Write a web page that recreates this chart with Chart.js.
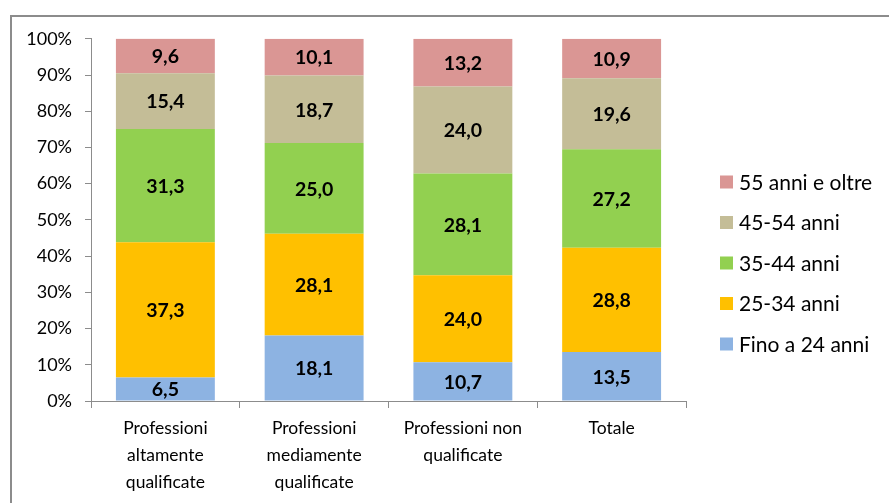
<!DOCTYPE html>
<html>
<head>
<meta charset="utf-8">
<script src="https://cdn.jsdelivr.net/npm/chart.js@4.4.1/dist/chart.umd.min.js"></script>
<style>
  html, body { margin: 0; padding: 0; background: #fff; overflow: hidden; }
  #frame {
    position: absolute; left: 10px; top: 15px;
    width: 884px; height: 495px;
    border: 2px solid #8c8c8c; box-sizing: border-box;
  }
  #wrap { position: absolute; left: 0; top: -2px; width: 877px; height: 489px; }
</style>
</head>
<body>
<div id="frame"><div id="wrap"><canvas id="chart"></canvas></div></div>
<script>
  // categories (multi-line labels)
  const categories = [
    ['Professioni', 'altamente', 'qualificate'],
    ['Professioni', 'mediamente', 'qualificate'],
    ['Professioni non', 'qualificate'],
    ['Totale']
  ];

  // series, bottom to top
  const fino24 = [6.5, 18.1, 10.7, 13.5];
  const anni25_34 = [37.3, 28.1, 24.0, 28.8];
  const anni35_44 = [31.3, 25.0, 28.1, 27.2];
  const anni45_54 = [15.4, 18.7, 24.0, 19.6];
  const anni55 = [9.6, 10.1, 13.2, 10.9];

  const yTicks = [0, 10, 20, 30, 40, 50, 60, 70, 80, 90, 100];

  const FONT = 'Lato, "Open Sans", sans-serif';

  // draws value labels in the middle of each segment
  const valueLabels = {
    id: 'valueLabels',
    afterDatasetsDraw(chart) {
      const ctx = chart.ctx;
      ctx.save();
      ctx.font = 'bold 19.5px ' + FONT;
      ctx.fillStyle = '#000';
      ctx.textAlign = 'center';
      ctx.textBaseline = 'middle';
      chart.data.datasets.forEach((ds, i) => {
        chart.getDatasetMeta(i).data.forEach((bar, j) => {
          const mid = (bar.y + bar.base) / 2;
          ctx.fillText(ds.data[j].toFixed(1).replace('.', ','), bar.x, mid + 1);
        });
      });
      ctx.restore();
    }
  };

  // legend on the right, reversed order
  const sideLegend = {
    id: 'sideLegend',
    afterDraw(chart) {
      const ctx = chart.ctx;
      const sets = chart.data.datasets.slice().reverse();
      ctx.save();
      ctx.font = '21px ' + FONT;
      ctx.textBaseline = 'middle';
      ctx.textAlign = 'left';
      sets.forEach((ds, k) => {
        const cy = 167 + k * 40.5;
        ctx.fillStyle = ds.backgroundColor;
        ctx.fillRect(708, cy - 6.5, 13, 13);
        ctx.fillStyle = '#000';
        ctx.fillText(ds.label, 727, cy + 1);
      });
      ctx.restore();
    }
  };

  new Chart(document.getElementById('chart'), {
    type: 'bar',
    data: {
      labels: categories,
      datasets: [
        { label: 'Fino a 24 anni', data: fino24, backgroundColor: '#8DB3E2' },
        { label: '25-34 anni', data: anni25_34, backgroundColor: '#FFC000' },
        { label: '35-44 anni', data: anni35_44, backgroundColor: '#92D050' },
        { label: '45-54 anni', data: anni45_54, backgroundColor: '#C4BD97' },
        { label: '55 anni e oltre', data: anni55, backgroundColor: '#DA9694' }
      ]
    },
    options: {
      responsive: true,
      maintainAspectRatio: false,
      animation: false,
      layout: { padding: { top: 15, right: 203, left: 0, bottom: 0 } },
      datasets: { bar: { barPercentage: 0.665, categoryPercentage: 1, borderWidth: 0 } },
      plugins: { legend: { display: false }, tooltip: { enabled: false } },
      scales: {
        x: {
          stacked: true,
          grid: { offset: true, drawOnChartArea: false, color: '#8c8c8c', tickLength: 7 },
          border: { color: '#8c8c8c' },
          ticks: { color: '#000', font: { family: FONT, size: 17.5, lineHeight: 1.55 }, maxRotation: 0, padding: 7 },
          afterFit(scale) { scale.height = 103; }
        },
        y: {
          stacked: true,
          min: 0,
          max: 100,
          afterBuildTicks(scale) { scale.ticks = yTicks.map(v => ({ value: v })); },
          grid: { drawOnChartArea: false, color: '#8c8c8c', tickLength: 6 },
          border: { color: '#8c8c8c' },
          ticks: { color: '#000', font: { family: FONT, size: 18 }, padding: 13, callback: v => v + '%' },
          afterFit(scale) { scale.width = 79; }
        }
      }
    },
    plugins: [valueLabels, sideLegend]
  });
</script>
</body>
</html>
